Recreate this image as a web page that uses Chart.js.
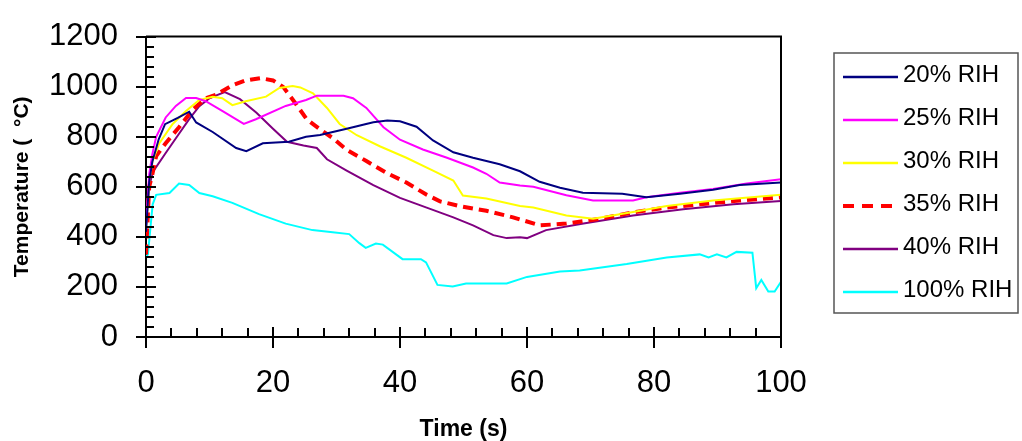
<!DOCTYPE html>
<html><head><meta charset="utf-8">
<script src="https://cdn.jsdelivr.net/npm/chart.js@4.4.1/dist/chart.umd.min.js"></script>
<style>html,body{margin:0;padding:0;background:#fff;}#wrap{width:1022px;height:441px;}</style>
</head><body><div id="wrap"><canvas id="c" width="1022" height="441"></canvas></div>
<script>
// ---- data ----
const seriesLabels = ['20% RIH','25% RIH','30% RIH','35% RIH','40% RIH','100% RIH'];
const t20 = [0,0.5,1,2,3,5,6.8,7.9,10.5,14.2,15.8,18.4,22.5,25.2,27.4,31.6,35.8,38,40,42.6,45.2,48.4,51.5,55.7,58.9,62,65.2,68.8,75,78.8,84.1,89.3,93.5,100];
const v20 = [420,620,700,790,850,875,900,857,819,755,742,774,780,800,807,832,858,865,862,840,785,738,716,690,662,620,596,576,572,558,572,588,607,617];
const t25 = [0,0.5,1,1.6,3.1,4.7,6.3,7.9,9.4,12,15.4,17.3,22,25.2,26.9,31.1,32.6,34.7,37.4,40,43.6,47.4,51.5,53.6,55.7,58.9,61,66.2,70.4,76.7,78.8,84.1,89.3,94.6,100];
const v25 = [450,650,730,800,877,923,955,955,942,903,851,870,923,947,964,964,954,915,838,788,749,716,677,652,617,605,600,566,545,545,558,576,591,613,630];
const t30 = [0,0.5,1,2.1,4.2,6.3,8.4,10.5,12,13.6,15.7,18.9,21,23.1,24.3,26.3,28.5,30.5,33.2,36.9,41,45.2,48.4,49.9,53.6,58.9,61,66.2,70.4,76.7,82,89.3,100];
const v30 = [430,620,700,774,851,903,947,960,954,926,942,960,995,1003,997,973,915,851,806,761,716,665,625,565,553,523,517,485,472,499,523,545,568];
const t35 = [0,0.5,1,1.6,3.1,5.2,7.4,9.4,11,13.6,15.7,18,20,21.6,23.7,25.3,27.4,29.5,31.6,34.7,37.9,41,44.2,46.3,49.4,53.6,57.8,62,66.2,71.5,76.7,82,87.2,93.5,100];
const v35 = [330,600,650,723,774,838,909,954,967,1005,1025,1034,1025,999,928,870,830,793,748,703,655,617,568,542,523,504,478,446,453,472,498,517,530,545,558];
const t40 = [0,0.5,1.05,3.1,5.2,6.8,8.4,10,12.4,14.8,17.4,20,22.2,24.8,26.9,28.5,31.6,35.8,40,44.2,48.4,51.5,54.7,56.8,58.9,60,63,68.9,76.7,84.6,92.5,100];
const v40 = [450,600,658,735,812,870,922,954,978,950,896,832,780,765,755,710,665,607,556,517,478,446,407,395,398,395,427,453,485,510,530,543];
const t100 = [0,0.3,1.05,1.6,3.7,5.2,6.8,8.4,10.5,13.6,17.8,22,26.2,29.4,32,33.6,34.6,36.2,37.3,40.4,43.3,44.1,45.9,48.3,50.4,56.8,60,65.2,68.3,75.7,82,87.2,88.6,89.9,91.4,93,95.5,96.1,96.9,98,99,100];
const v100 = [320,330,530,568,575,613,607,575,562,536,491,453,427,418,411,375,356,373,369,311,311,298,208,202,214,214,240,262,266,292,318,330,318,330,318,340,337,195,228,182,182,221];
const xTickValues = [0,20,40,60,80,100];
const yTickValues = [0,200,400,600,800,1000,1200];

// ---- styling ----
const FONT = '"Liberation Sans", Arial, sans-serif';
const styles = [
  {color:'#000080', width:2, dash:[]},
  {color:'#FF00FF', width:2, dash:[]},
  {color:'#FFFF00', width:2, dash:[]},
  {color:'#FF0000', width:4, dash:[10,6]},
  {color:'#800080', width:2, dash:[]},
  {color:'#00FFFF', width:2, dash:[]}
];
const times = [t20,t25,t30,t35,t40,t100];
const vals = [v20,v25,v30,v35,v40,v100];

const datasets = seriesLabels.map((lab,i)=>({
  label: lab,
  data: times[i].map((t,j)=>({x:t, y:vals[i][j]})),
  borderColor: styles[i].color,
  backgroundColor: styles[i].color,
  borderWidth: styles[i].width,
  borderDash: styles[i].dash,
  pointRadius: 0,
  tension: 0,
  fill: false
}));

const framePlugin = {
  id: 'frame',
  afterDraw(chart) {
    const {ctx, chartArea: a, scales: {x, y}} = chart;
    ctx.save();
    ctx.strokeStyle = '#000';
    ctx.lineWidth = 2;
    ctx.beginPath();
    ctx.moveTo(a.left, a.top); ctx.lineTo(a.right, a.top); ctx.lineTo(a.right, a.bottom);
    ctx.stroke();
    // inward ticks
    ctx.beginPath();
    for (let v = 0; v <= 1200; v += 40) {
      const py = Math.round(y.getPixelForValue(v));
      const len = (v % 200 === 0) ? 10 : 8;
      ctx.moveTo(a.left, py); ctx.lineTo(a.left + len, py);
    }
    for (let v = 0; v <= 100; v += 4) {
      const px = Math.round(x.getPixelForValue(v));
      const len = (v % 20 === 0) ? 10 : 9;
      ctx.moveTo(px, a.bottom); ctx.lineTo(px, a.bottom - len);
    }
    ctx.stroke();
    // legend
    const L = 834, T = 53, R = 1018, B = 313;
    ctx.strokeStyle = '#555';
    ctx.lineWidth = 1.5;
    ctx.strokeRect(L, T, R - L, B - T);
    chart.data.datasets.forEach((ds, i) => {
      const ly = 77 + i * 43;
      ctx.strokeStyle = ds.borderColor;
      ctx.lineWidth = Math.max(ds.borderWidth, 2.5);
      ctx.setLineDash(ds.borderDash && ds.borderDash.length ? [11,8] : []);
      ctx.beginPath(); ctx.moveTo(843, ly); ctx.lineTo(898, ly); ctx.stroke();
      ctx.setLineDash([]);
      ctx.fillStyle = '#000';
      ctx.font = '24px ' + FONT;
      ctx.textBaseline = 'middle';
      ctx.textAlign = 'left';
      ctx.fillText(ds.label, 903, ly - 2);
    });
    ctx.restore();
  }
};

new Chart(document.getElementById('c'), {
  type: 'line',
  data: { datasets },
  options: {
    responsive: false,
    animation: false,
    devicePixelRatio: 1,
    layout: { padding: { left: 0, top: 27, right: 241, bottom: 0 } },
    plugins: { legend: { display: false }, tooltip: { enabled: false } },
    scales: {
      x: {
        type: 'linear', min: 0, max: 100,
        afterBuildTicks: s => { s.ticks = xTickValues.map(v => ({value: v})); },
        afterFit: s => { s.height = 104; },
        ticks: { color: '#000', font: { family: FONT, size: 31 }, padding: 17, maxRotation: 0, callback: v => String(v) },
        grid: { display: true, drawOnChartArea: false, drawTicks: true, tickLength: 11, color: '#000', lineWidth: 2 },
        border: { display: true, color: '#000', width: 2 },
        title: { display: true, text: 'Time (s)', color: '#000', font: { family: FONT, size: 23, weight: 'bold', lineHeight: 1 }, padding: 0 }
      },
      y: {
        type: 'linear', min: 0, max: 1200,
        afterBuildTicks: s => { s.ticks = yTickValues.map(v => ({value: v})); },
        afterFit: s => { s.width = 146; },
        ticks: { color: '#000', font: { family: FONT, size: 31 }, padding: 18, callback: v => String(v) },
        grid: { display: true, drawOnChartArea: false, drawTicks: true, tickLength: 10, color: '#000', lineWidth: 2 },
        border: { display: true, color: '#000', width: 2 },
        title: { display: true, text: 'Temperature (  °C)', color: '#000', font: { family: FONT, size: 21, weight: 'bold', lineHeight: 1.2 }, padding: { top: 10, bottom: 0 } }
      }
    }
  },
  plugins: [framePlugin]
});
</script></body></html>
